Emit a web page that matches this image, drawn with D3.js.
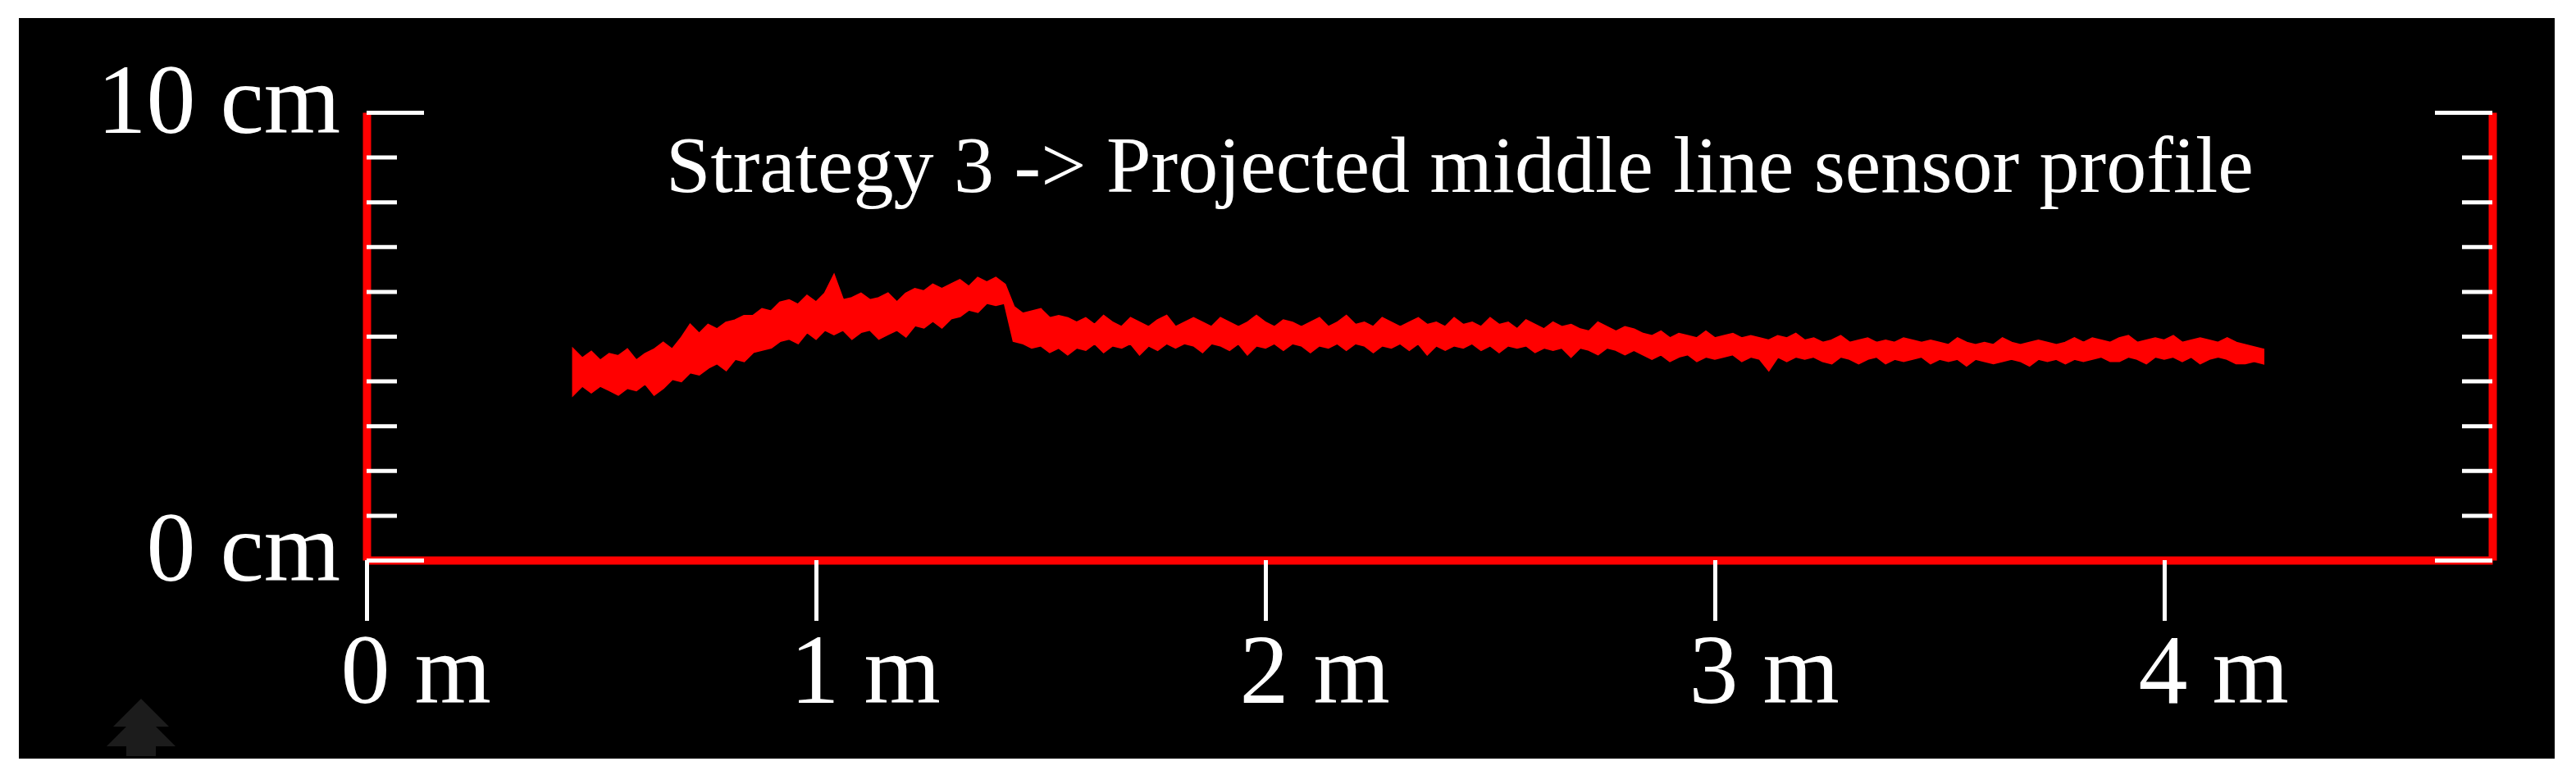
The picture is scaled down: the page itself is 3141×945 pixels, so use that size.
<!DOCTYPE html>
<html>
<head>
<meta charset="utf-8">
<script src="https://cdnjs.cloudflare.com/ajax/libs/d3/7.8.5/d3.min.js"></script>
<style>
  body { margin: 0; background: #fff; }
  svg { display: block; }
</style>
</head>
<body>
<div class="graph"></div>
<script>
// chart values
var title = "Strategy 3 -> Projected middle line sensor profile";
var xTicks = [0, 1, 2, 3, 4];
var xTickLabels = ["0 m", "1 m", "2 m", "3 m", "4 m"];
var xMax = 4.73;
var yMajorTicks = [0, 10];
var yMinorTicks = [1, 2, 3, 4, 5, 6, 7, 8, 9];
var yTickLabels = ["0 cm", "10 cm"];

// [distance m, lowest cm, highest cm] of the sensor point cloud
var profile = [
  [0.46, 3.70, 4.70], [0.48, 3.90, 4.50], [0.50, 3.75, 4.65], [0.52, 3.90, 4.45], [0.54, 3.80, 4.60],
  [0.56, 3.70, 4.55], [0.58, 3.85, 4.70], [0.60, 3.80, 4.45], [0.62, 3.95, 4.60], [0.64, 3.70, 4.70],
  [0.66, 3.85, 4.85], [0.68, 4.05, 4.70], [0.70, 4.00, 4.95], [0.72, 4.20, 5.25], [0.74, 4.15, 5.05],
  [0.76, 4.30, 5.25], [0.78, 4.40, 5.15], [0.80, 4.25, 5.30], [0.82, 4.50, 5.35], [0.84, 4.45, 5.45],
  [0.86, 4.65, 5.45], [0.88, 4.70, 5.60], [0.90, 4.75, 5.55], [0.92, 4.90, 5.75], [0.94, 4.95, 5.80],
  [0.96, 4.85, 5.70], [0.98, 5.10, 5.90], [1.00, 4.95, 5.75], [1.02, 5.15, 5.95], [1.04, 5.05, 6.35],
  [1.06, 5.15, 5.80], [1.08, 4.95, 5.85], [1.10, 5.10, 5.95], [1.12, 5.15, 5.80], [1.14, 4.95, 5.85],
  [1.16, 5.05, 5.95], [1.18, 5.15, 5.75], [1.20, 5.00, 5.95], [1.22, 5.25, 6.05], [1.24, 5.20, 6.00],
  [1.26, 5.35, 6.15], [1.28, 5.20, 6.05], [1.30, 5.40, 6.15], [1.32, 5.45, 6.25], [1.34, 5.60, 6.10],
  [1.36, 5.55, 6.30], [1.38, 5.75, 6.20], [1.40, 5.70, 6.30], [1.42, 5.75, 6.15], [1.44, 4.90, 5.65],
  [1.46, 4.85, 5.50], [1.48, 4.75, 5.55], [1.50, 4.80, 5.60], [1.52, 4.65, 5.40], [1.54, 4.75, 5.45],
  [1.56, 4.60, 5.40], [1.58, 4.75, 5.30], [1.60, 4.70, 5.40], [1.62, 4.85, 5.25], [1.64, 4.65, 5.45],
  [1.66, 4.80, 5.30], [1.68, 4.75, 5.20], [1.70, 4.85, 5.40], [1.72, 4.60, 5.30], [1.74, 4.80, 5.20],
  [1.76, 4.70, 5.35], [1.78, 4.85, 5.45], [1.80, 4.75, 5.20], [1.82, 4.85, 5.30], [1.84, 4.80, 5.40],
  [1.86, 4.65, 5.30], [1.88, 4.85, 5.20], [1.90, 4.80, 5.40], [1.92, 4.70, 5.30], [1.94, 4.85, 5.20],
  [1.96, 4.60, 5.30], [1.98, 4.80, 5.45], [2.00, 4.75, 5.30], [2.02, 4.85, 5.20], [2.04, 4.70, 5.35],
  [2.06, 4.85, 5.30], [2.08, 4.80, 5.20], [2.10, 4.65, 5.30], [2.12, 4.80, 5.40], [2.14, 4.75, 5.20],
  [2.16, 4.85, 5.30], [2.18, 4.70, 5.45], [2.20, 4.85, 5.25], [2.22, 4.80, 5.30], [2.24, 4.65, 5.20],
  [2.26, 4.80, 5.40], [2.28, 4.75, 5.30], [2.30, 4.85, 5.20], [2.32, 4.70, 5.30], [2.34, 4.85, 5.40],
  [2.36, 4.60, 5.25], [2.38, 4.80, 5.30], [2.40, 4.70, 5.20], [2.42, 4.80, 5.40], [2.44, 4.75, 5.25],
  [2.46, 4.85, 5.30], [2.48, 4.70, 5.20], [2.50, 4.80, 5.40], [2.52, 4.65, 5.25], [2.54, 4.80, 5.30],
  [2.56, 4.75, 5.15], [2.58, 4.80, 5.35], [2.60, 4.65, 5.25], [2.62, 4.75, 5.15], [2.64, 4.70, 5.30],
  [2.66, 4.75, 5.20], [2.68, 4.55, 5.25], [2.70, 4.75, 5.15], [2.72, 4.70, 5.10], [2.74, 4.60, 5.30],
  [2.76, 4.75, 5.20], [2.78, 4.70, 5.10], [2.80, 4.60, 5.20], [2.82, 4.70, 5.15], [2.84, 4.60, 5.05],
  [2.86, 4.50, 5.00], [2.88, 4.60, 5.10], [2.90, 4.45, 4.95], [2.92, 4.55, 5.05], [2.94, 4.60, 5.00],
  [2.96, 4.45, 4.95], [2.98, 4.55, 5.10], [3.00, 4.50, 4.95], [3.02, 4.55, 5.00], [3.04, 4.60, 5.05],
  [3.06, 4.45, 4.95], [3.08, 4.55, 5.00], [3.10, 4.50, 4.95], [3.12, 4.25, 4.90], [3.14, 4.55, 5.00],
  [3.16, 4.45, 4.95], [3.18, 4.55, 5.05], [3.20, 4.50, 4.90], [3.22, 4.55, 4.95], [3.24, 4.45, 4.85],
  [3.26, 4.40, 4.90], [3.28, 4.55, 5.00], [3.30, 4.50, 4.85], [3.32, 4.40, 4.90], [3.34, 4.50, 4.95],
  [3.36, 4.55, 4.85], [3.38, 4.40, 4.90], [3.40, 4.50, 4.85], [3.42, 4.45, 4.95], [3.44, 4.50, 4.90],
  [3.46, 4.55, 4.85], [3.48, 4.40, 4.90], [3.50, 4.50, 4.85], [3.52, 4.45, 4.80], [3.54, 4.50, 4.95],
  [3.56, 4.35, 4.85], [3.58, 4.50, 4.80], [3.60, 4.45, 4.85], [3.62, 4.40, 4.80], [3.64, 4.45, 4.95],
  [3.66, 4.50, 4.85], [3.68, 4.45, 4.80], [3.70, 4.35, 4.85], [3.72, 4.50, 4.90], [3.74, 4.45, 4.85],
  [3.76, 4.50, 4.80], [3.78, 4.40, 4.85], [3.80, 4.50, 4.95], [3.82, 4.45, 4.85], [3.84, 4.50, 4.95],
  [3.86, 4.55, 4.90], [3.88, 4.45, 4.85], [3.90, 4.45, 4.95], [3.92, 4.55, 5.00], [3.94, 4.50, 4.85],
  [3.96, 4.40, 4.90], [3.98, 4.55, 4.95], [4.00, 4.50, 4.90], [4.02, 4.55, 5.00], [4.04, 4.45, 4.85],
  [4.06, 4.55, 4.90], [4.08, 4.40, 4.95], [4.10, 4.50, 4.90], [4.12, 4.55, 4.85], [4.14, 4.50, 4.95],
  [4.16, 4.40, 4.85], [4.18, 4.40, 4.80], [4.20, 4.45, 4.75], [4.22, 4.40, 4.70]
];

var width = 3141, height = 945;
var font = "'Liberation Serif', 'DejaVu Serif', serif";

var svg = d3.select(".graph").append("svg")
  .attr("width", width)
  .attr("height", height);

// black panel
svg.append("rect")
  .attr("x", 23).attr("y", 22)
  .attr("width", 3092).attr("height", 903)
  .attr("fill", "#000");

// faint logo bottom left
svg.append("path")
  .attr("d", "M172,852 L206,886 L190,886 L214,910 L190,910 L190,922 L154,922 L154,910 L130,910 L154,886 L138,886 Z")
  .attr("fill", "#1c1c1c");

var x = d3.scaleLinear().domain([0, xMax]).range([447, 3039]);
var y = d3.scaleLinear().domain([0, 10]).range([683, 137]);

function styleAxis(g, lineWidth) {
  g.select(".domain").attr("stroke", "#ff0000").attr("stroke-width", lineWidth);
  g.selectAll(".tick line").attr("stroke", "#fff").attr("stroke-width", 5);
}

// red axis lines
var xAxisG = svg.append("g")
  .attr("transform", "translate(0," + y(0) + ")")
  .call(d3.axisBottom(x).tickValues([]).tickSizeOuter(0));
styleAxis(xAxisG, 10);

var leftG = svg.append("g")
  .attr("transform", "translate(" + x(0) + ",0)")
  .call(d3.axisRight(y).tickValues(yMinorTicks).tickSize(37).tickSizeOuter(0).tickFormat(""));
styleAxis(leftG, 10);

var rightG = svg.append("g")
  .attr("transform", "translate(" + x(xMax) + ",0)")
  .call(d3.axisLeft(y).tickValues(yMinorTicks).tickSize(37).tickSizeOuter(0).tickFormat(""));
styleAxis(rightG, 10);

// long ticks at 0 and 10 cm
var leftMajor = svg.append("g")
  .attr("transform", "translate(" + x(0) + ",0)")
  .call(d3.axisRight(y).tickValues(yMajorTicks).tickSize(70).tickFormat(""));
leftMajor.select(".domain").remove();
styleAxis(leftMajor, 0);

var rightMajor = svg.append("g")
  .attr("transform", "translate(" + x(xMax) + ",0)")
  .call(d3.axisLeft(y).tickValues(yMajorTicks).tickSize(70).tickFormat(""));
rightMajor.select(".domain").remove();
styleAxis(rightMajor, 0);

// x ticks pointing down
var xTickG = svg.append("g")
  .attr("transform", "translate(0," + y(0) + ")")
  .call(d3.axisBottom(x).tickValues(xTicks).tickSize(74)
    .tickFormat(function (d, i) { return xTickLabels[i]; }));
xTickG.select(".domain").remove();
styleAxis(xTickG, 0);
xTickG.attr("font-size", 120).attr("font-family", font);
xTickG.selectAll("text")
  .attr("fill", "#fff")
  .attr("text-anchor", "start")
  .attr("x", -32)
  .attr("y", 174)
  .attr("dy", "0");

// y labels
var yLabelG = svg.append("g")
  .attr("transform", "translate(415,0)")
  .call(d3.axisLeft(y).tickValues(yMajorTicks).tickSize(0).tickPadding(0)
    .tickFormat(function (d, i) { return yTickLabels[i]; }));
yLabelG.select(".domain").remove();
yLabelG.attr("font-size", 120).attr("font-family", font);
yLabelG.selectAll("text")
  .attr("fill", "#fff")
  .attr("dy", "0.2em");

// profile band
var band = d3.area()
  .x(function (d) { return x(d[0]); })
  .y0(function (d) { return y(d[1]); })
  .y1(function (d) { return y(d[2]); });

svg.append("path")
  .datum(profile)
  .attr("d", band)
  .attr("fill", "#ff0000")
  .attr("stroke", "#ff0000")
  .attr("stroke-width", 3)
  .attr("stroke-linejoin", "miter");

svg.append("text")
  .attr("x", 812)
  .attr("y", 234)
  .attr("font-family", font)
  .attr("font-size", 98)
  .attr("fill", "#fff")
  .text(title);
</script>
</body>
</html>
